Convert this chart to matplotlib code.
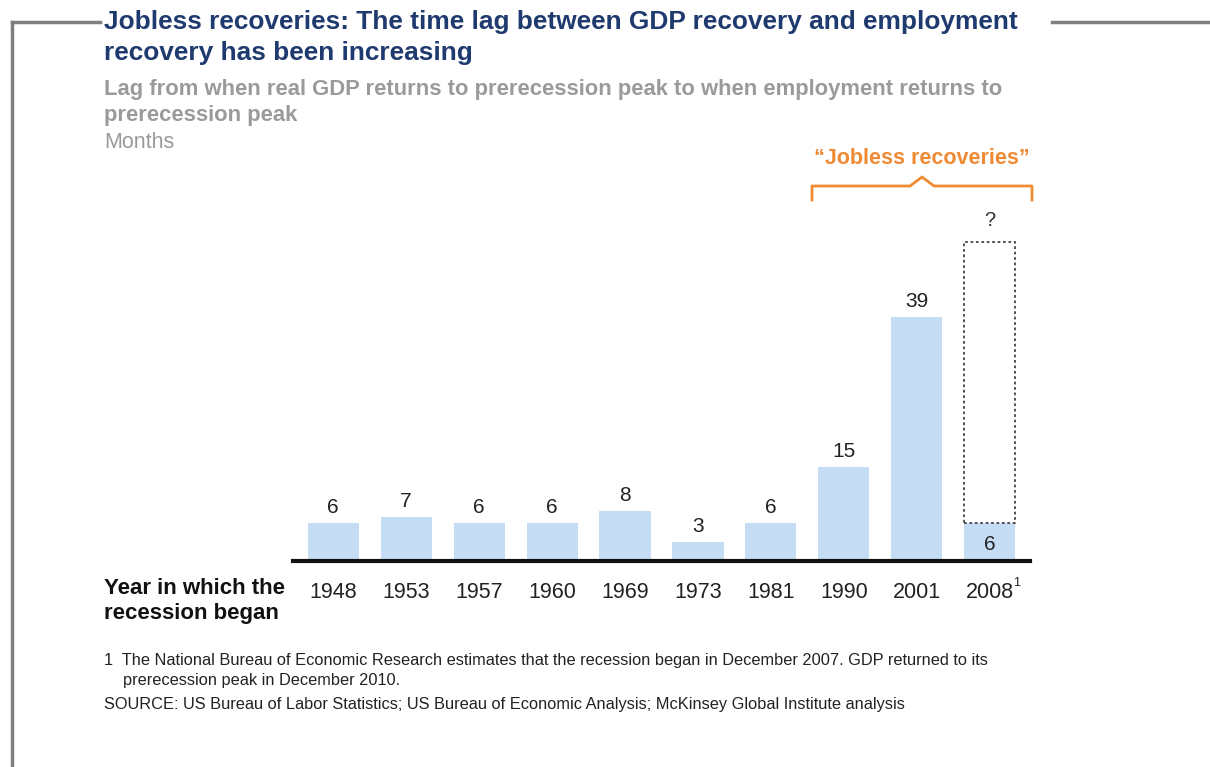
import numpy as np
import matplotlib.pyplot as plt
from matplotlib.lines import Line2D

plt.rcParams['font.family'] = ['Liberation Sans', 'DejaVu Sans']

# data
years = ['1948', '1953', '1957', '1960', '1969', '1973', '1981', '1990', '2001', '2008']
lag_months = [6, 7, 6, 6, 8, 3, 6, 15, 39, 6]
projected_2008 = 51  # top of the dotted "?" box

W, H = 1210, 767
fig = plt.figure(figsize=(W / 100, H / 100), dpi=100)

def px(x, y):
    # pixel position -> figure fraction
    return x / W, 1 - y / H

# axes placed so the baseline sits at y=561
l, b = px(293, 561)
r, t = px(1030, 140)
ax = fig.add_axes([l, b, r - l, t - b])

x = np.arange(len(years))
bar_col = '#c5ddf4'
ax.bar(x, lag_months, width=0.7, color=bar_col, zorder=2)

# dotted box for the unknown 2008 value
ax.bar(x[-1], projected_2008 - lag_months[-1], bottom=lag_months[-1], width=0.7,
       fill=False, edgecolor='#444444', linestyle=(0, (1.5, 1.5)), linewidth=1.3, zorder=3)
ax.text(x[-1], projected_2008 + 1.8, '?', ha='center', va='bottom', fontsize=14.5, color='#333333')

for i, v in enumerate(lag_months):
    if i == len(years) - 1:
        ax.text(i, v / 2 - 0.4, str(v), ha='center', va='center', fontsize=15, color='#222222')
    else:
        ax.text(i, v + 1.0, str(v), ha='center', va='bottom', fontsize=15, color='#222222')

ax.set_xlim(-0.55, 9.55)
ax.set_ylim(0, 67.25)
ax.set_yticks([])
ax.set_xticks(x)
ax.set_xticklabels(years, fontsize=15.5, color='#222222')
ax.tick_params(axis='x', length=0, pad=15)
for s in ['top', 'right', 'left']:
    ax.spines[s].set_visible(False)
ax.spines['bottom'].set_linewidth(3)
ax.spines['bottom'].set_color('#111111')
ax.patch.set_visible(False)

# superscript footnote marker on 2008
fig.text(*px(1013, 583), '1', fontsize=9, color='#222222', ha='left', va='center')

# gray frame lines
fig.add_artist(Line2D([12 / W, 12 / W], [1 - 22 / H, 0], color='#7f7f7f', lw=2.5))
fig.add_artist(Line2D([12 / W, 100 / W], [1 - 22 / H, 1 - 22 / H], color='#7f7f7f', lw=2.5))
fig.add_artist(Line2D([1052 / W, 1 - 0.001], [1 - 22 / H, 1 - 22 / H], color='#7f7f7f', lw=2.5))

# titles
navy = '#1f3a6e'
fig.text(*px(104, 22), 'Jobless recoveries: The time lag between GDP recovery and employment',
         fontsize=18.9, fontweight='bold', color=navy, va='center')
fig.text(*px(104, 53), 'recovery has been increasing',
         fontsize=18.9, fontweight='bold', color=navy, va='center')
grey = '#9a9a9a'
fig.text(*px(104, 89), 'Lag from when real GDP returns to prerecession peak to when employment returns to',
         fontsize=15.8, fontweight='bold', color=grey, va='center')
fig.text(*px(104, 116), 'prerecession peak', fontsize=15.8, fontweight='bold', color=grey, va='center')
fig.text(*px(104, 142), 'Months', fontsize=15.5, color=grey, va='center')

# "Jobless recoveries" bracket
orange = '#ef8a34'
fig.text(*px(922, 159), '\u201cJobless recoveries\u201d', fontsize=15.5, fontweight='bold',
         color=orange, ha='center', va='center')
bx = np.array([812, 812, 910, 922, 934, 1032, 1032]) / W
by = 1 - np.array([200, 186, 186, 177, 186, 186, 200]) / H
fig.add_artist(Line2D(bx, by, color=orange, lw=2))

# axis caption
fig.text(*px(104, 588), 'Year in which the', fontsize=16, fontweight='bold', color='#111111', va='center')
fig.text(*px(104, 614), 'recession began', fontsize=16, fontweight='bold', color='#111111', va='center')

# footnotes
fig.text(*px(104, 660), '1  The National Bureau of Economic Research estimates that the recession began in December 2007. GDP returned to its',
         fontsize=11.8, color='#222222', va='center')
fig.text(*px(123, 680), 'prerecession peak in December 2010.', fontsize=11.8, color='#222222', va='center')
fig.text(*px(104, 705), 'SOURCE: US Bureau of Labor Statistics; US Bureau of Economic Analysis; McKinsey Global Institute analysis',
         fontsize=11.8, color='#222222', va='center')

fig.savefig('out.png', dpi=100)
